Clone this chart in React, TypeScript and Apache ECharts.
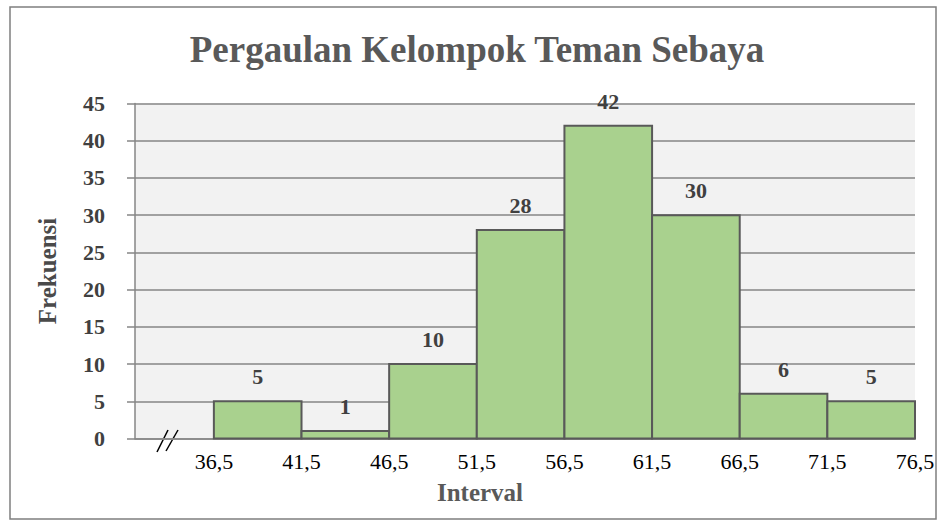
import React, { useEffect, useRef } from "react";
import * as echarts from "echarts";

const lowerBounds = [36.5, 41.5, 46.5, 51.5, 56.5, 61.5, 66.5, 71.5];
const upperBounds = [41.5, 46.5, 51.5, 56.5, 61.5, 66.5, 71.5, 76.5];
const frequencies = [5, 1, 10, 28, 42, 30, 6, 5];
const xTickValues = [36.5, 41.5, 46.5, 51.5, 56.5, 61.5, 66.5, 71.5, 76.5];

const FONT = "'Liberation Serif'";

export default function App() {
  const ref = useRef<HTMLDivElement>(null);
  useEffect(() => {
    if (!ref.current) return;
    const chart = echarts.init(ref.current, null, { renderer: "svg" });
    const data = lowerBounds.map((lo, i) => [lo, upperBounds[i], frequencies[i]]);
    chart.setOption({
      animation: false,
      backgroundColor: "#ffffff",
      grid: {
        left: 135,
        right: 23,
        top: 103.5,
        bottom: 82.5,
        show: true,
        backgroundColor: "#f2f2f2",
        borderWidth: 0,
      },
      xAxis: {
        type: "value",
        min: 32,
        max: 76.5,
        splitLine: { show: false },
        axisLine: { show: true, lineStyle: { color: "#868686", width: 1.5 } },
        axisTick: { show: false },
        axisLabel: {
          customValues: xTickValues,
          formatter: (v: number) => v.toFixed(1).replace(".", ","),
          fontFamily: FONT,
          fontSize: 22,
          lineHeight: 22,
          color: "#000000",
          margin: 12,
        },
      },
      yAxis: {
        type: "value",
        min: 0,
        max: 45,
        interval: 5,
        name: "Frekuensi",
        nameLocation: "middle",
        nameGap: 75,
        nameRotate: 90,
        nameTextStyle: { fontFamily: FONT, fontSize: 25, fontWeight: "bold", color: "#4a4a4a" },
        axisLine: { show: true, lineStyle: { color: "#868686", width: 1.5 } },
        axisTick: { show: true, length: 8, lineStyle: { color: "#868686", width: 1.5 } },
        splitLine: { show: true, lineStyle: { color: "#868686", width: 1.5 } },
        axisLabel: {
          fontFamily: FONT,
          fontSize: 22,
          fontWeight: "bold",
          color: "#404040",
          margin: 30,
        },
      },
      series: [
        {
          type: "custom",
          data,
          encode: { x: [0, 1], y: 2 },
          renderItem: (params: any, api: any) => {
            const lo = api.value(0);
            const hi = api.value(1);
            const v = api.value(2);
            const p0 = api.coord([lo, v]);
            const p1 = api.coord([hi, 0]);
            return {
              type: "group",
              children: [
                {
                  type: "rect",
                  shape: { x: p0[0], y: p0[1], width: p1[0] - p0[0], height: p1[1] - p0[1] },
                  style: { fill: "#a9d18e", stroke: "#595959", lineWidth: 2 },
                },
                {
                  type: "text",
                  x: (p0[0] + p1[0]) / 2,
                  y: p0[1] - 24.5,
                  style: {
                    text: String(v),
                    fontFamily: FONT,
                    fontSize: 22,
                    fontWeight: "bold",
                    fill: "#404040",
                    textAlign: "center",
                    textVerticalAlign: "middle",
                  },
                },
              ],
            };
          },
        },
      ],
      graphic: [
        {
          type: "rect",
          shape: { x: 10, y: 7, width: 926, height: 512 },
          style: { fill: "none", stroke: "#7f7f7f", lineWidth: 1.5 },
          silent: true,
        },
        {
          type: "text",
          x: 477,
          y: 49,
          style: {
            text: "Pergaulan Kelompok Teman Sebaya",
            fontFamily: FONT,
            fontSize: 37,
            fontWeight: "bold",
            fill: "#595959",
            textAlign: "center",
            textVerticalAlign: "middle",
          },
        },
        {
          type: "text",
          x: 480,
          y: 492,
          style: {
            text: "Interval",
            fontFamily: FONT,
            fontSize: 25,
            fontWeight: "bold",
            fill: "#595959",
            textAlign: "center",
            textVerticalAlign: "middle",
          },
        },
        {
          type: "line",
          shape: { x1: 157, y1: 452, x2: 168, y2: 430 },
          style: { stroke: "#000000", lineWidth: 1.5 },
        },
        {
          type: "line",
          shape: { x1: 166, y1: 451, x2: 178, y2: 430 },
          style: { stroke: "#000000", lineWidth: 1.5 },
        },
      ],
    });
    return () => chart.dispose();
  }, []);
  return (
    <div
      ref={ref}
      style={{ position: "absolute", left: 0, top: 0, width: 938, height: 521 }}
    />
  );
}
